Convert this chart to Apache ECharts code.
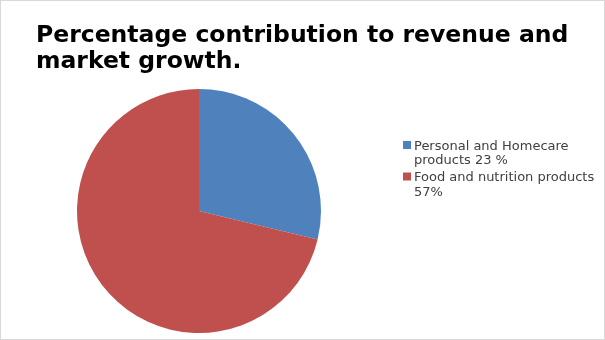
<!DOCTYPE html>
<html>
<head>
<meta charset="utf-8">
<script src="https://cdn.jsdelivr.net/npm/echarts@6/dist/echarts.min.js"></script>
<style>
  html, body { margin: 0; padding: 0; background: #fff; }
  #chart { position: absolute; left: 0; top: 0; width: 605px; height: 340px; }
  #frame { position: absolute; left: 0; top: 0; width: 605px; height: 340px;
           box-sizing: border-box; border: 1px solid #d9d9d9; pointer-events: none; }
</style>
</head>
<body>
<div id="chart"></div>
<div id="frame"></div>
<script>
// Share of revenue by product group
const categories = ['Personal and Homecare\nproducts 23 %', 'Food and nutrition products\n57%'];
const values = [23, 57];
const colors = ['#4F81BD', '#C0504D'];
const titleText = 'Percentage contribution to revenue and\nmarket growth.';

const chart = echarts.init(document.getElementById('chart'));

// Legend entries: square swatch aligned with the first text line
const legendItems = [];
const legendTops = [139, 170.5];
categories.forEach((name, i) => {
  legendItems.push({
    type: 'rect',
    shape: { x: 403, y: legendTops[i] + 2, width: 8, height: 8 },
    style: { fill: colors[i] }
  });
  legendItems.push({
    type: 'text',
    x: 414, y: legendTops[i],
    style: {
      text: name,
      fill: '#404040',
      font: '13px "DejaVu Sans"',
      lineHeight: 14.5,
      textVerticalAlign: 'top'
    }
  });
});

chart.setOption({
  animation: false,
  backgroundColor: '#fff',
  title: {
    text: titleText,
    left: 36,
    top: 22.5,
    padding: 0,
    textStyle: {
      fontFamily: '"DejaVu Sans"',
      fontSize: 23.5,
      fontWeight: 'bold',
      color: '#000',
      lineHeight: 26
    }
  },
  color: colors,
  series: [{
    type: 'pie',
    center: [199, 211],
    radius: 122,
    startAngle: 90,
    clockwise: true,
    label: { show: false },
    labelLine: { show: false },
    emphasis: { disabled: true },
    data: categories.map((name, i) => ({ name: name, value: values[i] }))
  }],
  graphic: legendItems
});
</script>
</body>
</html>
